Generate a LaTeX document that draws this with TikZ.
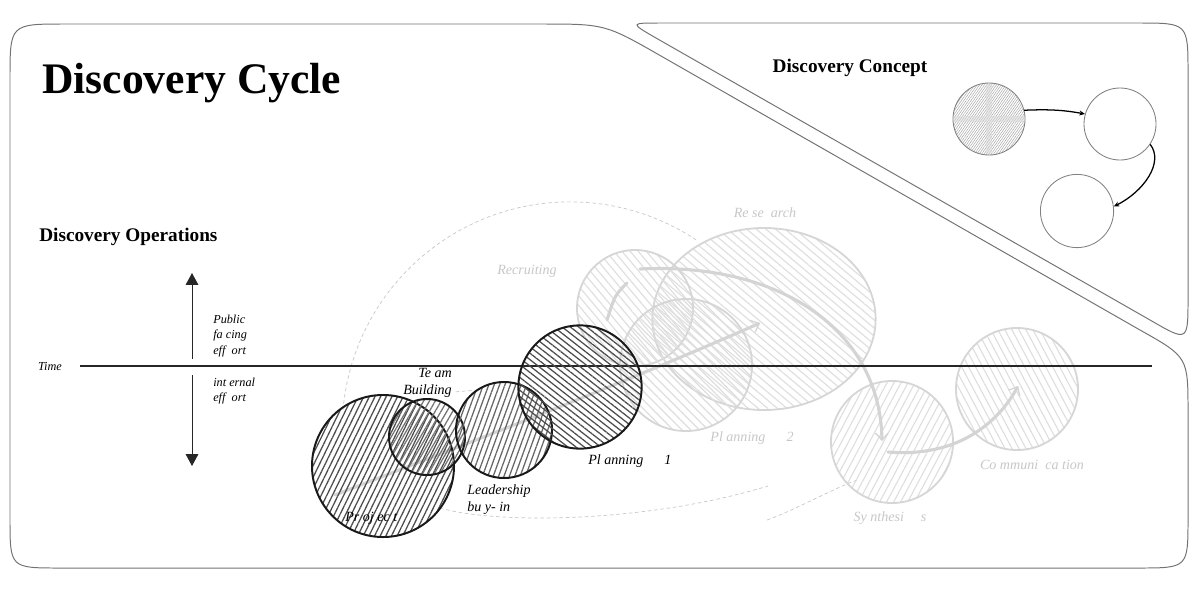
\documentclass[tikz,border=0pt]{standalone}
\usepackage{fontspec}
\setmainfont{Liberation Serif}
\usetikzlibrary{positioning}
\usetikzlibrary{arrows.meta}
\usetikzlibrary{patterns.meta}
\usetikzlibrary{shapes.geometric}
\tikzset{>=Stealth}
\tikzset{frame/.style={draw=black!55, line width=0.7pt}}
\tikzset{stage/.style={draw=black!90, circle, line width=1.4pt, inner sep=0pt}}
\tikzset{ghost/.style={draw=black!16, circle, line width=1.3pt, inner sep=0pt}}
\tikzset{hatch/.style={pattern={Lines[angle=#1, distance=3.6pt, line width=0.9pt]}, pattern color=black!70}}
\tikzset{ghosthatch/.style={pattern={Lines[angle=#1, distance=4.4pt, line width=0.8pt]}, pattern color=black!13}}
\tikzset{tag/.style={font=\fontsize{10}{12.2}\selectfont\itshape, inner sep=0pt}}
\tikzset{ghosttag/.style={tag, text=black!22}}
\tikzset{side/.style={font=\fontsize{8.7}{10.7}\selectfont\itshape, inner sep=0pt, align=left}}
\tikzset{heading/.style={font=\fontsize{13.7}{16}\selectfont\bfseries, inner sep=0pt}}
\tikzset{flow/.style={draw=black!17, line width=2.2pt, line cap=round, -{Straight Barb[length=5pt, width=9pt, line width=0.9pt]}}}
\tikzset{trail/.style={draw=black!22, line width=0.5pt, dash pattern=on 2.5pt off 2pt}}
\tikzset{idea/.style={draw=black!50, circle, line width=0.6pt, inner sep=0pt, minimum size=1.8cm}}
\tikzset{link/.style={draw=black, line width=0.9pt, -{Stealth[length=4pt, width=3.5pt]}}}
\tikzset{axisarrow/.style={draw=black!85, line width=0.7pt, -{Triangle[length=8.5pt, width=9pt]}}}

\begin{document}
\begin{tikzpicture}[x=0.025cm, y=-0.025cm]
\useasboundingbox (0,0) rectangle (1200,588);

% panels
\draw[frame] (10,79) .. controls (10,24) .. (65,24) -- (540,24)
  .. controls (605,24) .. (661,56) -- (1140,330)
  .. controls (1188,357) .. (1188,412) -- (1188,518)
  .. controls (1188,568) .. (1138,568) -- (60,568)
  .. controls (10,568) .. (10,518) -- cycle;
\draw[frame] (900,23) -- (1138,23) .. controls (1188,23) .. (1188,73) -- (1188,298)
  .. controls (1188,342) .. (1150,320) -- (656,38)
  .. controls (630,23) .. (660,23) -- cycle;

% dashed trails
\draw[trail] (343,410) arc[start angle=-175, end angle=-56, radius=228];
\draw[trail] (440,508) .. controls (500,525) and (650,522) .. (768,486);
\draw[trail] (767,520) .. controls (795,510) and (830,490) .. (857,480);
\draw[trail] (478,390) -- (453,392);

% later stages
\node[ghost, ellipse, minimum width=5.58cm, minimum height=4.55cm, ghosthatch=-40] (res) at (764,319) {};
\node[ghost, minimum size=2.9cm, ghosthatch=-50] (recr) at (635,308) {};
\node[ghost, minimum size=3.3cm, ghosthatch=-45] (plan2) at (686,365) {};
\node[ghost, minimum size=3.05cm, ghosthatch=62] (syn) at (892,442) {};
\node[ghost, minimum size=3.05cm, ghosthatch=-62] (comm) at (1017,389) {};

\node[ghosttag] (recrlbl) at (527,271) {Recruiting};
\node[ghosttag] (reslbl) at (765,213) {Re se\ \ arch};
\node[ghosttag] (plan2lbl) at (752,438) {Pl\ anning\hspace{1.5em}2};
\node[ghosttag] (synlbl) at (890,518) {Sy nthesi\hspace{1.2em}s};
\node[ghosttag] (commlbl) at (1032,465) {Co mmuni\ \ ca tion};

\coordinate (f1a) at (640,269);
\coordinate (f1b) at (882,441);
\coordinate (f2a) at (888,452);
\coordinate (f2b) at (1018,386);
\coordinate (f3a) at (335,495);
\coordinate (f3b) at (760,323);
\coordinate (f4a) at (627,283);
\coordinate (f4b) at (607,320);
\draw[flow] (f1a) .. controls (780,262) and (880,330) .. (f1b);
\draw[flow] (f2a) .. controls (960,458) and (1000,420) .. (f2b);
\draw[flow] (f3a) .. controls (450,450) and (620,385) .. (f3b);
\draw[flow, -] (f4a) .. controls (615,295) .. (f4b);

% time axis
\node[side] (time) at (50,366) {Time};
\coordinate (tl) at (80,366);
\coordinate (tr) at (1152,366);
\draw[line width=1.5pt, black!85] (tl) -- (tr);

\coordinate (ua) at (192,359);
\coordinate (ub) at (192,273);
\coordinate (da) at (192,375);
\coordinate (db) at (192,466);
\draw[axisarrow] (ua) -- (ub);
\draw[axisarrow] (da) -- (db);

\node[side, anchor=west] (pub) at (213,336) {Public\\fa cing\\eff\ \ ort};
\node[side, anchor=west] (intl) at (213,391) {int\ ernal\\eff\ \ ort};

% first stages
\node[stage, minimum size=3.55cm, hatch=64] (proj) at (383,466) {};
\node[stage, minimum size=1.9cm, hatch=60, pattern color=black!55] (team) at (427,437) {};
\node[stage, minimum size=2.4cm, hatch=70, pattern color=black!60] (lead) at (504,430) {};
\node[stage, minimum size=3.08cm, hatch=-38] (plan1) at (580,387) {};

\node[tag, align=right, anchor=east] (teamlbl) at (452,383) {Te am\\Building};
\node[tag, align=left, anchor=west] (leadlbl) at (467,500) {Leadership\\bu y- in};
\node[tag, anchor=west] (plan1lbl) at (588,461) {Pl\ anning\hspace{1.5em}1};
\node[tag, anchor=west] (projlbl) at (345,518) {Pr oj\ ec t};

% headings
\node[font=\fontsize{31}{36}\selectfont\bfseries, anchor=base west, inner sep=0pt] (ttl) at (42,93) {Discovery Cycle};
\node[heading] (concepthd) at (850,68) {Discovery Concept};
\node[heading, anchor=west] (opshd) at (39,237) {Discovery Operations};

% concept
\node[idea, pattern={Lines[angle=55, distance=1.4pt, line width=0.35pt]}, pattern color=black!35] (c1) at (989,119) {};
\draw[black!15, line width=4pt, opacity=0.5, shorten <=1pt, shorten >=1pt] (c1.west) -- (c1.east) (c1.north) -- (c1.south);
\node[idea] (c2) at (1120,124) {};
\node[idea, minimum size=1.83cm] (c3) at (1077,211) {};
\draw[link] (c1.14) .. controls +(25,-1) and +(-22,-4) .. (c2.164);
\draw[link] (c2.-34) .. controls +(14,18) and +(30,-15) .. (c3.7);
\end{tikzpicture}
\end{document}
